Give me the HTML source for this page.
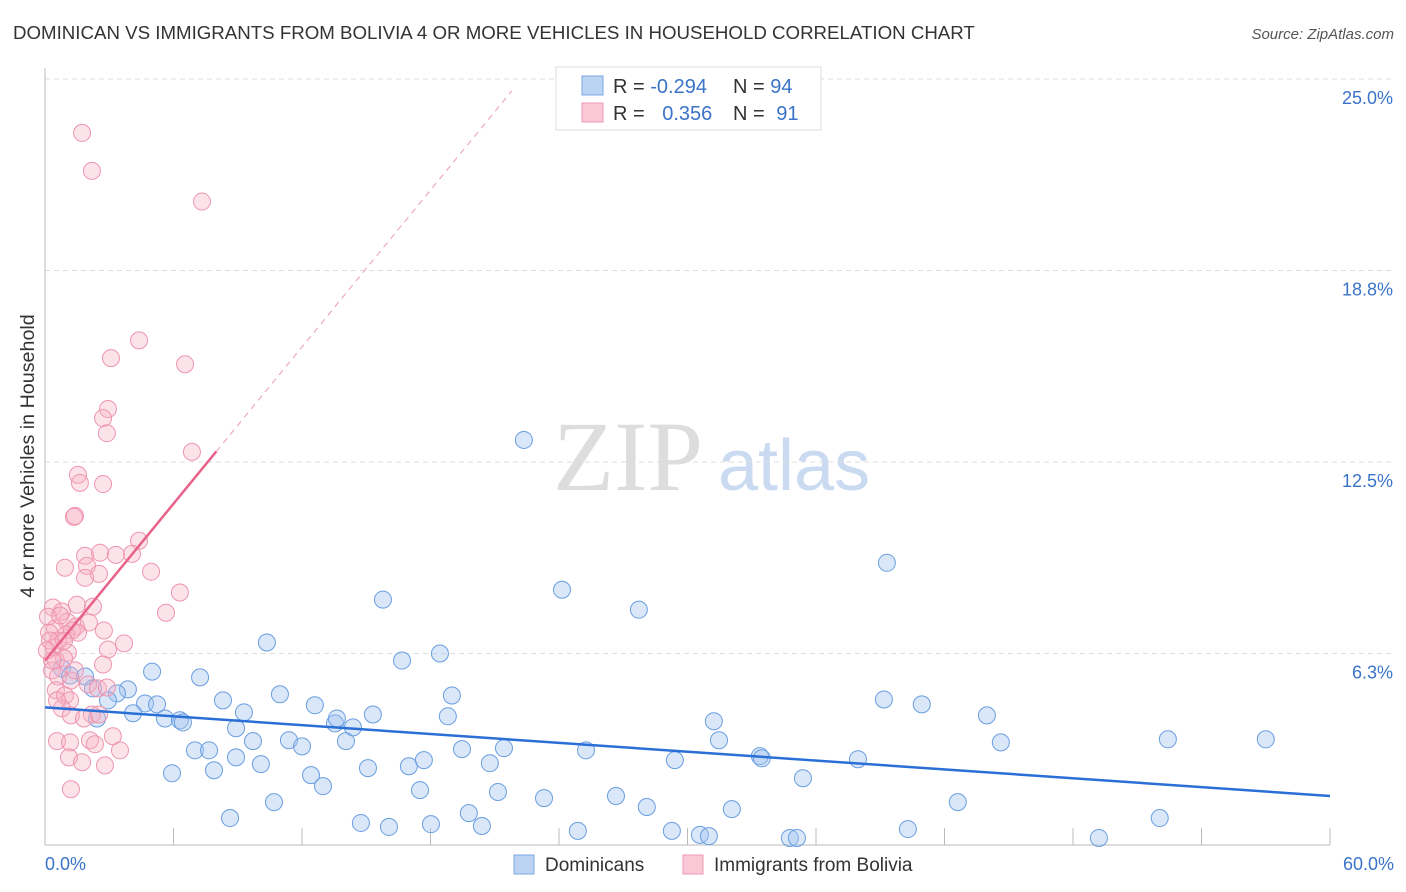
<!DOCTYPE html>
<html><head><meta charset="utf-8"><style>
body{margin:0;background:#fff;font-family:"Liberation Sans",sans-serif}
svg{display:block}
</style></head><body>
<svg id="chart" width="1406" height="892" xmlns="http://www.w3.org/2000/svg">
<text x="13" y="39" font-size="18.7" fill="#333">DOMINICAN VS IMMIGRANTS FROM BOLIVIA 4 OR MORE VEHICLES IN HOUSEHOLD CORRELATION CHART</text>
<text x="1394" y="39" font-size="15" fill="#555" text-anchor="end" font-style="italic">Source: ZipAtlas.com</text>
<g>
<text x="553" y="490" font-family="Liberation Serif,serif" font-size="100" fill="#ddd">ZIP</text>
<text x="718" y="490" font-size="72" fill="#c9daf1">atlas</text>
</g>
<g id="grid"></g>
<g id="axes"></g>
<g id="marks"></g>
<text transform="translate(34,456) rotate(-90)" font-size="19.7" fill="#333" text-anchor="middle">4 or more Vehicles in Household</text>
<text x="45" y="870" font-size="18" fill="#3a73c8">0.0%</text>
<text x="1394" y="870" font-size="18" fill="#3a73c8" text-anchor="end">60.0%</text>
<g>
<rect x="556" y="67" width="265" height="63" fill="#fff" stroke="#ddd"/>
<rect x="582" y="76" width="21" height="19" fill="#bcd4f4" stroke="#7aa6e0"/>
<rect x="582" y="103" width="21" height="19" fill="#f9c7d5" stroke="#ee9ab2"/>
<text x="613" y="93" font-size="20" fill="#333">R = <tspan fill="#3a73c8">-0.294</tspan></text>
<text x="733" y="93" font-size="20" fill="#333">N = <tspan fill="#3a73c8">94</tspan></text>
<text x="613" y="120" font-size="20" fill="#333">R = <tspan fill="#3a73c8" dx="12">0.356</tspan></text>
<text x="733" y="120" font-size="20" fill="#333">N = <tspan fill="#3a73c8" dx="6">91</tspan></text>
</g>
<g>
<rect x="514" y="855" width="20" height="19" fill="#bcd4f4" stroke="#7aa6e0"/>
<text x="545" y="871" font-size="19" fill="#333">Dominicans</text>
<rect x="683" y="855" width="20" height="19" fill="#f9c7d5" stroke="#ee9ab2"/>
<text x="714" y="871" font-size="19" fill="#333">Immigrants from Bolivia</text>
</g>
</svg>
<script>
const yTicks=[25,18.75,12.5,6.25];
const yTickLabels=["25.0%","18.8%","12.5%","6.3%"];
const xTicks=[6,12,18,24,30,36,42,48,54,60];
const blueX=[22.36,39.31,24.14,15.78,27.73,10.36,16.67,18.44,5.0,7.24,0.79,1.17,1.87,2.24,3.87,3.36,2.94,4.67,5.23,8.31,10.97,12.6,19.0,39.17,40.94,4.11,5.6,6.3,6.44,9.29,13.54,13.63,15.31,18.81,31.23,43.98,2.43,8.92,7.0,7.66,9.71,11.39,12.0,14.05,14.38,19.47,21.43,25.26,31.47,44.63,52.43,57.0,5.93,7.89,8.92,10.08,12.42,12.98,15.08,16.99,17.69,20.77,29.41,33.38,33.47,37.96,35.39,10.69,17.51,21.15,23.3,26.66,28.1,32.07,42.62,8.64,14.75,16.06,18.02,19.79,20.4,24.88,29.27,30.58,31.0,34.78,35.11,40.29,49.21,52.05];
const blueY=[13.22,9.21,8.33,8.01,7.68,6.61,6.02,6.25,5.66,5.47,5.76,5.53,5.5,5.11,5.08,4.95,4.72,4.62,4.59,4.72,4.92,4.56,4.88,4.75,4.59,4.3,4.13,4.07,4.0,4.33,3.97,4.13,4.26,4.2,4.04,4.23,4.13,3.81,3.09,3.09,3.39,3.42,3.22,3.39,3.84,3.13,3.16,3.09,3.42,3.35,3.45,3.45,2.34,2.44,2.86,2.64,2.28,1.92,2.51,2.57,2.77,2.67,2.77,2.9,2.83,2.8,2.18,1.4,1.79,1.73,1.53,1.6,1.24,1.17,1.4,0.88,0.72,0.59,0.68,1.04,0.62,0.46,0.46,0.33,0.29,0.23,0.23,0.52,0.23,0.88];
const pinkX=[1.73,2.19,7.33,4.39,3.08,6.54,2.94,2.71,2.89,6.86,1.54,1.63,2.71,1.4,1.35,4.39,1.87,2.57,3.31,4.06,1.96,0.93,2.52,4.95,1.87,6.3,0.37,0.79,1.49,2.24,5.65,0.14,1.03,1.45,2.05,0.47,1.26,0.19,0.98,1.54,2.75,3.69,0.61,0.42,1.07,2.94,0.51,0.89,2.71,0.33,0.61,1.21,2.01,2.47,0.51,0.93,1.17,2.89,0.79,1.21,2.19,1.82,2.52,0.56,1.17,2.1,2.33,3.17,3.5,1.12,1.73,2.8,1.21,0.33,0.56,0.23,0.7,0.09,0.89,1.4];
const pinkY=[23.24,22.0,21.0,16.47,15.89,15.69,14.23,13.93,13.44,12.83,12.08,11.82,11.78,10.74,10.71,9.93,9.44,9.54,9.47,9.5,9.11,9.05,8.85,8.92,8.72,8.24,7.75,7.62,7.84,7.78,7.58,7.45,7.29,7.13,7.26,7.06,7.0,6.93,6.87,6.93,7.0,6.58,6.67,6.45,6.28,6.38,6.02,6.09,5.89,5.7,5.5,5.37,5.24,5.11,5.05,4.88,4.72,5.14,4.46,4.23,4.26,4.13,4.26,3.39,3.35,3.42,3.29,3.55,3.09,2.86,2.7,2.6,1.82,6.02,4.72,6.67,7.49,6.35,6.67,5.7];
const blueTrend=[4.49,1.6];
const pinkTrend=[6.02,0.853];
const NS="http://www.w3.org/2000/svg";
const X0=45,X1=1330,Y0=845,YT=79;
const xs=v=>X0+v/60*(X1-X0);
const ys=v=>Y0-v/25*(Y0-YT);
function mk(tag,attrs,parent){const e=document.createElementNS(NS,tag);for(const k in attrs)e.setAttribute(k,attrs[k]);parent.appendChild(e);return e;}
const grid=document.getElementById('grid'),axes=document.getElementById('axes'),marks=document.getElementById('marks');
yTicks.forEach((t,i)=>{
 const l=mk('line',{x1:X0,x2:1394,y1:ys(t),y2:ys(t),stroke:'#ddd','stroke-dasharray':'5,4'},grid);
 
 
 const tx=mk('text',{x:1393,y:ys(t)+25,'font-size':18,fill:'#3a73c8','text-anchor':'end'},grid);
 tx.textContent=yTickLabels[i];
 
 
});
const ya=mk('line',{x1:X0,x2:X0,y1:68,y2:Y0,stroke:'#bbb'},axes);


const xa=mk('line',{x1:X0,x2:X1,y1:Y0,y2:Y0,stroke:'#bbb'},axes);


xTicks.forEach(t=>{
 const l=mk('line',{x1:xs(t),x2:xs(t),y1:828,y2:Y0,stroke:'#bbb'},axes);
 
 
});
blueX.forEach((v,i)=>{
 const c=mk('circle',{cx:xs(v),cy:ys(blueY[i]),r:8.5,fill:'rgba(160,196,240,0.4)',stroke:'#6a9ee0','stroke-width':1},marks);
 
 
});
pinkX.forEach((v,i)=>{
 const c=mk('circle',{cx:xs(v),cy:ys(pinkY[i]),r:8.5,fill:'rgba(246,176,196,0.35)',stroke:'#ee95b0','stroke-width':1},marks);
 
 
});
const bt=mk('line',{x1:xs(0),y1:ys(blueTrend[0]),x2:xs(60),y2:ys(blueTrend[1]),stroke:'#2a6fd6','stroke-width':2.5},marks);


const pt=mk('line',{x1:xs(0),y1:ys(pinkTrend[0]),x2:xs(8),y2:ys(pinkTrend[0]+pinkTrend[1]*8),stroke:'#e8628a','stroke-width':2.5},marks);


const pd=mk('line',{x1:xs(8),y1:ys(pinkTrend[0]+pinkTrend[1]*8),x2:xs(21.8),y2:ys(pinkTrend[0]+pinkTrend[1]*21.8),stroke:'#eeaabd','stroke-width':1.2,'stroke-dasharray':'6,5'},marks);


</script>
</body></html>
